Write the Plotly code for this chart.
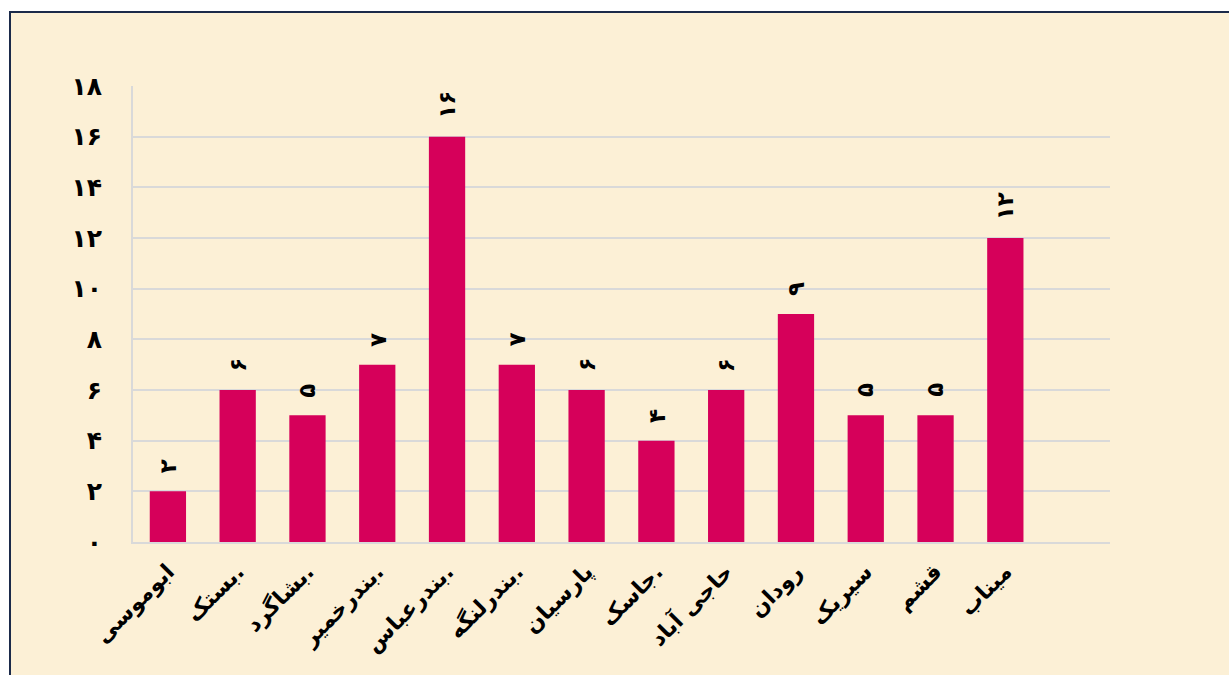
import plotly.graph_objects as go

# Counties of Hormozgan and their counts
counties = ["ابوموسی", "بستک.", "بشاگرد.", "بندرخمیر.", "بندرعباس.", "بندرلنگه.",
            "پارسیان", "جاسک.", "حاجی آباد", "رودان", "سیریک", "قشم", "میناب"]
counts = [2, 6, 5, 7, 16, 7, 6, 4, 6, 9, 5, 5, 12]

fa_digits = str.maketrans("0123456789", "۰۱۲۳۴۵۶۷۸۹")


def fa(n):
    return str(n).translate(fa_digits)


y_ticks = list(range(0, 19, 2))
x_pos = list(range(len(counties)))

font_family = "DejaVu Sans"

fig = go.Figure()
fig.add_trace(go.Bar(
    x=x_pos,
    y=counts,
    width=0.52,
    marker=dict(color="#D6005A", line=dict(width=0)),
    hoverinfo="x+y",
))

# value labels, rotated, sitting a little above each bar
for xi, v in zip(x_pos, counts):
    fig.add_annotation(
        x=xi, y=v, xref="x", yref="y",
        text=fa(v), showarrow=False,
        textangle=-90, yanchor="bottom", xanchor="center",
        yshift=16,
        font=dict(family=font_family, size=23, color="black", weight="bold"),
    )

fig.update_layout(
    width=1229,
    height=675,
    margin=dict(l=133, r=119, t=86, b=133),
    paper_bgcolor="white",
    plot_bgcolor="rgba(0,0,0,0)",
    showlegend=False,
    bargap=0.48,
    shapes=[
        dict(type="rect", xref="paper", yref="paper", layer="below",
             x0=-123 / 977, x1=1.2, y0=-0.4, y1=(675 - 12 - 133) / 456,
             fillcolor="#FCF0D6", line=dict(color="#1B2A4A", width=2)),
    ],
    xaxis=dict(
        range=[-0.5, 13.5],
        tickmode="array",
        tickvals=x_pos,
        ticktext=counties,
        tickangle=-45,
        tickfont=dict(family=font_family, size=22, color="black", weight="bold"),
        showgrid=False,
        showline=True,
        linecolor="#D9D9D9",
        linewidth=2,
        ticks="",
        ticklabelstandoff=6,
        zeroline=False,
    ),
    yaxis=dict(
        range=[0, 18],
        tickmode="array",
        tickvals=y_ticks,
        ticktext=[fa(v) for v in y_ticks],
        tickfont=dict(family=font_family, size=25, color="black", weight="bold"),
        showgrid=True,
        gridcolor="#D9D9D9",
        gridwidth=2,
        showline=True,
        linecolor="#D9D9D9",
        linewidth=2,
        ticks="",
        ticklabelstandoff=24,
        zeroline=False,
    ),
)

fig.write_html("out.html")
